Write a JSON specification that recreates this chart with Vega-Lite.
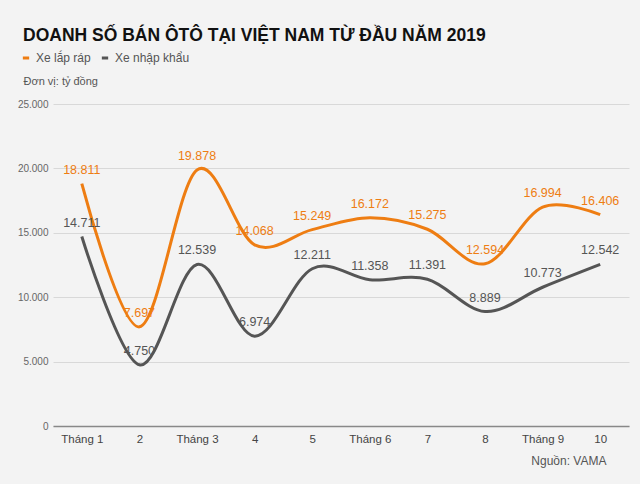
{
  "$schema": "https://vega.github.io/schema/vega-lite/v6.json",
  "width": 576,
  "height": 322,
  "autosize": "none",
  "padding": {"left": 53, "top": 104, "right": 11, "bottom": 58},
  "background": "#f3f3f3",
  "config": {
    "view": {"stroke": null},
    "font": "Liberation Sans",
    "locale": {
      "number": {"decimal": ",", "thousands": ".", "grouping": [3], "currency": ["", " ₫"]}
    }
  },
  "title": {
    "text": "DOANH SỐ BÁN ÔTÔ TẠI VIỆT NAM TỪ ĐẦU NĂM 2019",
    "anchor": "start",
    "frame": "group",
    "dx": -30,
    "offset": 8,
    "fontSize": 17.5,
    "fontWeight": "bold",
    "color": "#111111",
    "font": "Liberation Sans"
  },
  "data": {
    "values": [
      {"thang": "Tháng 1", "loai": "Xe lắp ráp", "gt": 18811},
      {"thang": "2", "loai": "Xe lắp ráp", "gt": 7697},
      {"thang": "Tháng 3", "loai": "Xe lắp ráp", "gt": 19878},
      {"thang": "4", "loai": "Xe lắp ráp", "gt": 14068},
      {"thang": "5", "loai": "Xe lắp ráp", "gt": 15249},
      {"thang": "Tháng 6", "loai": "Xe lắp ráp", "gt": 16172},
      {"thang": "7", "loai": "Xe lắp ráp", "gt": 15275},
      {"thang": "8", "loai": "Xe lắp ráp", "gt": 12594},
      {"thang": "Tháng 9", "loai": "Xe lắp ráp", "gt": 16994},
      {"thang": "10", "loai": "Xe lắp ráp", "gt": 16406},
      {"thang": "Tháng 1", "loai": "Xe nhập khẩu", "gt": 14711},
      {"thang": "2", "loai": "Xe nhập khẩu", "gt": 4750},
      {"thang": "Tháng 3", "loai": "Xe nhập khẩu", "gt": 12539},
      {"thang": "4", "loai": "Xe nhập khẩu", "gt": 6974},
      {"thang": "5", "loai": "Xe nhập khẩu", "gt": 12211},
      {"thang": "Tháng 6", "loai": "Xe nhập khẩu", "gt": 11358},
      {"thang": "7", "loai": "Xe nhập khẩu", "gt": 11391},
      {"thang": "8", "loai": "Xe nhập khẩu", "gt": 8889},
      {"thang": "Tháng 9", "loai": "Xe nhập khẩu", "gt": 10773},
      {"thang": "10", "loai": "Xe nhập khẩu", "gt": 12542}
    ]
  },
  "encoding": {
    "x": {
      "field": "thang",
      "type": "ordinal",
      "sort": null,
      "scale": {"type": "point", "padding": 0.5},
      "axis": {
        "title": "Nguồn: VAMA",
        "titleAnchor": "end",
        "titleAlign": "right",
        "titleX": 553,
        "titleY": 38,
        "titleBaseline": "alphabetic",
        "titleFontSize": 12,
        "titleFontWeight": "normal",
        "titleColor": "#555555",
        "labelAngle": 0,
        "labelFontSize": 11.5,
        "labelColor": "#444444",
        "labelPadding": 7,
        "ticks": false,
        "domainColor": "#888888",
        "domainWidth": 1.5,
        "grid": false
      }
    },
    "y": {
      "field": "gt",
      "type": "quantitative",
      "scale": {"domain": [0, 25000], "nice": false},
      "axis": {
        "values": [0, 5000, 10000, 15000, 20000, 25000],
        "format": ",.0f",
        "labelFontSize": 10,
        "labelColor": "#666666",
        "labelPadding": 5,
        "ticks": false,
        "domain": false,
        "gridColor": "#d8d8d8",
        "gridWidth": 1,
        "title": "Đơn vị: tỷ đồng",
        "titleAngle": 0,
        "titleAlign": "left",
        "titleBaseline": "alphabetic",
        "titleX": -30,
        "titleY": -20,
        "titleFontSize": 11,
        "titleFontWeight": "normal",
        "titleColor": "#555555"
      }
    },
    "color": {
      "field": "loai",
      "type": "nominal",
      "scale": {"domain": ["Xe lắp ráp", "Xe nhập khẩu"], "range": ["#ee7d12", "#555555"]},
      "legend": {
        "title": null,
        "orient": "none",
        "direction": "horizontal",
        "legendX": -33,
        "legendY": -52,
        "symbolType": "stroke",
        "symbolStrokeWidth": 3,
        "symbolSize": 40,
        "labelFontSize": 12,
        "labelColor": "#555555",
        "columnPadding": 4,
        "labelOffset": 4
      }
    }
  },
  "layer": [
    {
      "mark": {"type": "line", "interpolate": "cardinal", "strokeWidth": 3}
    },
    {
      "mark": {"type": "text", "baseline": "alphabetic", "dy": -10, "fontSize": 12.5},
      "encoding": {
        "text": {"field": "gt", "type": "quantitative", "format": ",.0f"},
        "color": {
          "field": "loai",
          "type": "nominal",
          "scale": {"domain": ["Xe lắp ráp", "Xe nhập khẩu"], "range": ["#ee7d12", "#555555"]},
          "legend": null
        }
      }
    }
  ]
}
